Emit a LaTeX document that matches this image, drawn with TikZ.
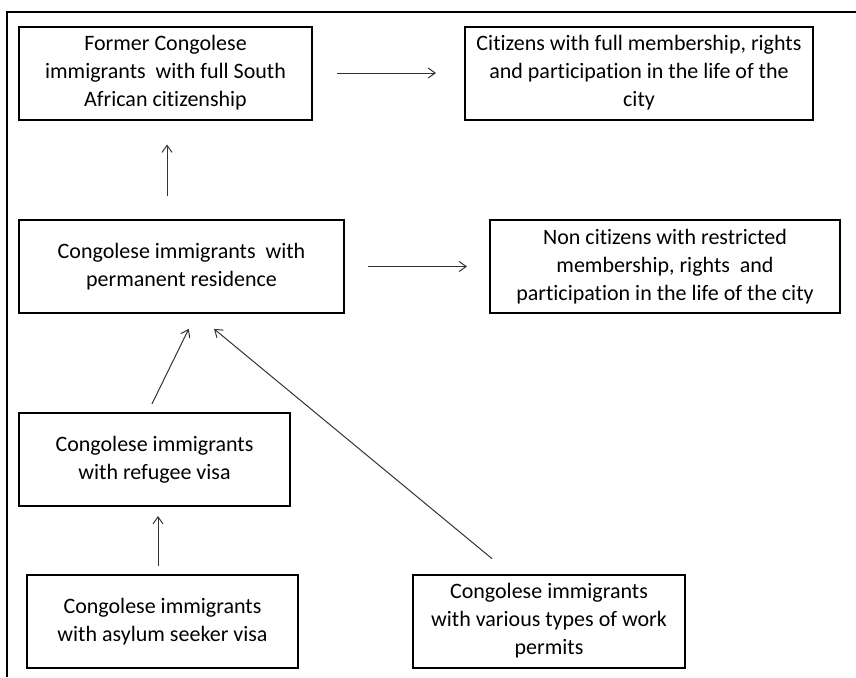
\documentclass[tikz,border=0pt]{standalone}
\usepackage{fontspec}
\setmainfont[Ligatures=NoCommon]{Carlito}
\usetikzlibrary{arrows.meta}

\begin{document}
\begin{tikzpicture}[x=0.5pt,y=-0.5pt,
    box/.style={draw,line width=1pt,align=center,inner sep=0pt,minimum height=46.5pt,font=\fontsize{11pt}{14pt}\selectfont},
    arr/.style={draw=black!80,line width=0.5pt,-{Straight Barb[length=3.5pt,width=5pt]}}]
    \useasboundingbox(0,0)rectangle(856,677);
    \draw[line width=1pt](856,12)--(7,12)--(7,677);
    % boxes
    \node[box,minimum width=146.5pt](former)at(165.5,73){Former Congolese\\immigrants\ \ with full South\\African citizenship};
    \node[box,minimum width=174pt](citizens)at(639,73){Citizens with full membership, rights\\and participation in the life of the\\city};
    \node[box,minimum width=162.5pt](perm)at(181.5,266.5){Congolese immigrants\ \ with\\permanent residence};
    \node[box,minimum width=175pt](noncit)at(665,266.5){Non citizens with restricted\\membership, rights\ \ and\\participation in the life of the city};
    \node[box,minimum width=135.5pt](refugee)at(154.5,459.5){Congolese immigrants\\with refugee visa};
    \node[box,minimum width=135.5pt](asylum)at(162.5,621.5){Congolese immigrants\\with asylum seeker visa};
    \node[box,minimum width=136pt](work)at(549,621){Congolese immigrants\\with various types of work\\permits};
    \coordinate(hit)at([xshift=7.25pt]perm.south);
    \coordinate(up)at([xshift=-2.25pt]asylum.north);
    % arrows
    \draw[arr,shorten <=12pt,shorten >=14pt](former.east)--(citizens.west);
    \draw[arr,shorten <=11.5pt,shorten >=11pt](perm.east)--(noncit.west);
    \draw[arr,shorten <=11.5pt,shorten >=12pt]([xshift=0.75pt]former.south|-perm.north)--([xshift=0.75pt]former.south);
    \draw[arr,shorten <=4.5pt,shorten >=8.25pt]([xshift=-3.25pt]refugee.north)--(hit);
    \draw[arr,shorten <=11.7pt,shorten >=11.7pt]([xshift=-19.5pt]work.north)--(hit);
    \draw[arr,shorten <=4pt,shorten >=4.5pt](up)--(up|-refugee.south);
\end{tikzpicture}
\end{document}
